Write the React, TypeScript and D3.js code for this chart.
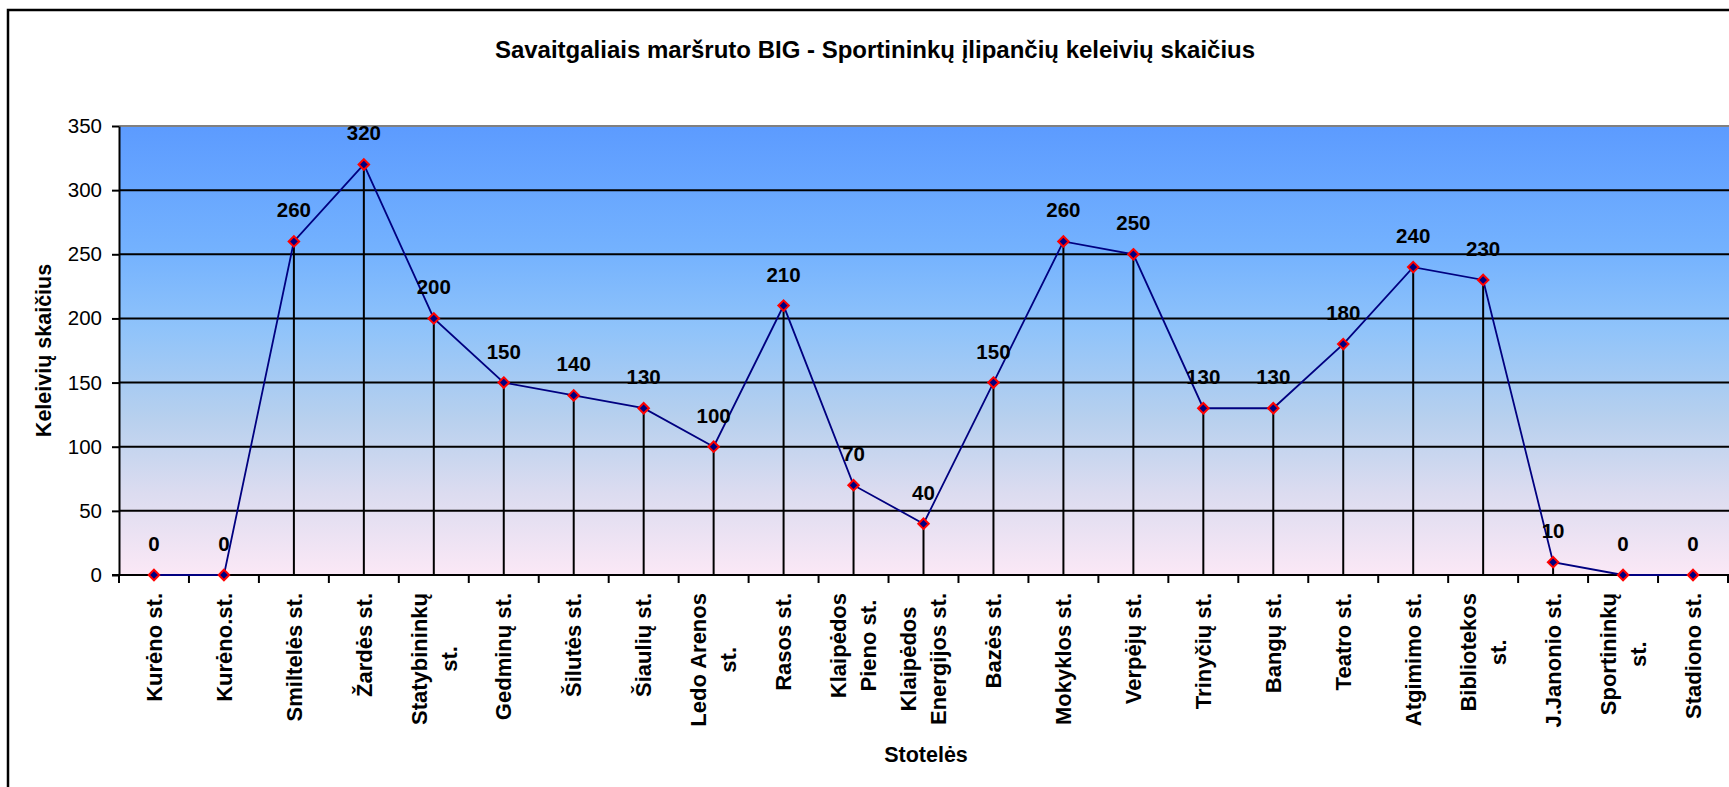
import { useEffect, useRef } from "react";
import * as d3 from "d3";

// stops along the route (line breaks as in the original axis)
const stopNames = [
  "Kurėno st.",
  "Kurėno.st.",
  "Smiltelės st.",
  "Žardės st.",
  "Statybininkų\nst.",
  "Gedminų st.",
  "Šilutės st.",
  "Šiaulių st.",
  "Ledo Arenos\nst.",
  "Rasos st.",
  "Klaipėdos\nPieno st.",
  "Klaipėdos\nEnergijos st.",
  "Bazės st.",
  "Mokyklos st.",
  "Verpėjų st.",
  "Trinyčių st.",
  "Bangų st.",
  "Teatro st.",
  "Atgimimo st.",
  "Bibliotekos\nst.",
  "J.Janonio st.",
  "Sportininkų\nst.",
  "Stadiono st.",
];

const passengers = [0, 0, 260, 320, 200, 150, 140, 130, 100, 210, 70, 40, 150, 260, 250, 130, 130, 180, 240, 230, 10, 0, 0];

const yTicks = [0, 50, 100, 150, 200, 250, 300, 350];

const FONT = "'Liberation Sans', Arial, sans-serif";

export default function App() {
  const chartRef = useRef<SVGSVGElement>(null);

  useEffect(() => {
    const width = 1729;
    const height = 787;
    const plot = { left: 119, right: 1728, top: 126, bottom: 575 };

    const svg = d3.select(chartRef.current);
    svg.selectAll("*").remove();
    svg.attr("width", width).attr("height", height).style("font-family", FONT);

    // background + outer frame (right/bottom edges run off the picture)
    svg.append("rect").attr("width", width).attr("height", height).attr("fill", "#fff");
    svg
      .append("rect")
      .attr("x", 8)
      .attr("y", 10)
      .attr("width", width + 20)
      .attr("height", height + 20)
      .attr("fill", "none")
      .attr("stroke", "#000")
      .attr("stroke-width", 2.5);

    const xScale = d3
      .scaleBand<number>()
      .domain(d3.range(stopNames.length))
      .range([plot.left, plot.right]);

    const yScale = d3.scaleLinear().domain([0, 350]).range([plot.bottom, plot.top]);

    // gradient fill of the plot area
    const grad = svg
      .append("defs")
      .append("linearGradient")
      .attr("id", "plotGrad")
      .attr("x1", 0)
      .attr("y1", 0)
      .attr("x2", 0)
      .attr("y2", 1);
    [
      [0, "#5c9bff"],
      [0.28, "#74b2fe"],
      [0.45, "#8fc3fa"],
      [0.65, "#b7d0ee"],
      [0.82, "#dcdcf0"],
      [1, "#fbe8f6"],
    ].forEach(([o, c]) => grad.append("stop").attr("offset", o as number).attr("stop-color", c as string));

    svg
      .append("rect")
      .attr("x", plot.left)
      .attr("y", plot.top)
      .attr("width", width - plot.left)
      .attr("height", plot.bottom - plot.top)
      .attr("fill", "url(#plotGrad)");

    // top border of plot area
    svg
      .append("line")
      .attr("x1", plot.left)
      .attr("x2", width)
      .attr("y1", plot.top)
      .attr("y2", plot.top)
      .attr("stroke", "#808080")
      .attr("stroke-width", 2);

    // horizontal gridlines
    svg
      .selectAll(".grid")
      .data(yTicks.filter((t) => t > 0 && t < 350))
      .enter()
      .append("line")
      .attr("x1", plot.left)
      .attr("x2", width)
      .attr("y1", (d) => yScale(d))
      .attr("y2", (d) => yScale(d))
      .attr("stroke", "#000")
      .attr("stroke-width", 2);

    const cx = (i: number) => xScale(i)! + xScale.bandwidth() / 2;

    // drop lines
    svg
      .selectAll(".drop")
      .data(passengers)
      .enter()
      .append("line")
      .attr("x1", (_, i) => cx(i))
      .attr("x2", (_, i) => cx(i))
      .attr("y1", (d) => yScale(d))
      .attr("y2", plot.bottom)
      .attr("stroke", "#000")
      .attr("stroke-width", 2);

    // y axis
    const yAxis = svg
      .append("g")
      .attr("transform", `translate(${plot.left},0)`)
      .call(d3.axisLeft(yScale).tickValues(yTicks).tickSize(7).tickSizeOuter(0).tickPadding(10));
    yAxis.select(".domain").attr("stroke", "#000").attr("stroke-width", 2);
    yAxis.selectAll(".tick line").attr("stroke", "#000").attr("stroke-width", 2);
    yAxis
      .selectAll(".tick text")
      .attr("fill", "#000")
      .style("font-family", FONT)
      .style("font-size", "20.5px");

    // x axis line + ticks at band edges
    svg
      .append("line")
      .attr("x1", plot.left - 7)
      .attr("x2", width)
      .attr("y1", plot.bottom)
      .attr("y2", plot.bottom)
      .attr("stroke", "#000")
      .attr("stroke-width", 2);
    svg
      .selectAll(".xtick")
      .data(d3.range(stopNames.length + 1))
      .enter()
      .append("line")
      .attr("x1", (i) => plot.left + i * xScale.bandwidth())
      .attr("x2", (i) => plot.left + i * xScale.bandwidth())
      .attr("y1", plot.bottom)
      .attr("y2", plot.bottom + 8)
      .attr("stroke", "#000")
      .attr("stroke-width", 2);

    // x tick labels, rotated
    const labelTop = 593;
    const lineGap = 30;
    stopNames.forEach((name, i) => {
      const lines = name.split("\n");
      const g = svg.append("g");
      const texts = lines.map((ln) =>
        g
          .append("text")
          .attr("text-anchor", "middle")
          .attr("dy", "0.35em")
          .style("font-size", "22px")
          .style("font-weight", "bold")
          .text(ln)
      );
      const maxW = d3.max(texts, (t) => (t.node() as SVGTextElement).getComputedTextLength()) || 0;
      texts.forEach((t, k) => {
        const lx = cx(i) + (k - (lines.length - 1) / 2) * lineGap;
        const ly = labelTop + maxW / 2;
        t.attr("transform", `translate(${lx},${ly}) rotate(-90)`);
      });
    });

    // series line
    const line = d3
      .line<number>()
      .x((_, i) => cx(i))
      .y((d) => yScale(d));
    svg
      .append("path")
      .datum(passengers)
      .attr("d", line)
      .attr("fill", "none")
      .attr("stroke", "#000080")
      .attr("stroke-width", 1.8);

    // diamond markers
    const diamond = d3.symbol(d3.symbolDiamond2, 70);
    svg
      .selectAll(".marker")
      .data(passengers)
      .enter()
      .append("path")
      .attr("d", diamond)
      .attr("transform", (d, i) => `translate(${cx(i)},${yScale(d)})`)
      .attr("fill", "#000080")
      .attr("stroke", "#ff0000")
      .attr("stroke-width", 2);

    // data labels
    svg
      .selectAll(".dlabel")
      .data(passengers)
      .enter()
      .append("text")
      .attr("x", (_, i) => cx(i))
      .attr("y", (d) => yScale(d) - 24)
      .attr("text-anchor", "middle")
      .style("font-size", "20.5px")
      .style("font-weight", "bold")
      .text((d) => d);

    // y axis title
    svg
      .append("text")
      .attr("transform", `translate(43,${(plot.top + plot.bottom) / 2}) rotate(-90)`)
      .attr("text-anchor", "middle")
      .attr("dy", "0.35em")
      .style("font-size", "21.5px")
      .style("font-weight", "bold")
      .text("Keleivių skaičius");

    // x axis title
    svg
      .append("text")
      .attr("x", 926)
      .attr("y", 762)
      .attr("text-anchor", "middle")
      .style("font-size", "21.5px")
      .style("font-weight", "bold")
      .text("Stotelės");

    // chart title
    svg
      .append("text")
      .attr("x", 875)
      .attr("y", 58)
      .attr("text-anchor", "middle")
      .style("font-size", "24px")
      .style("font-weight", "bold")
      .text("Savaitgaliais maršruto BIG - Sportininkų įlipančių keleivių skaičius");
  }, []);

  return <svg ref={chartRef} style={{ position: "absolute", left: 0, top: 0 }} />;
}
